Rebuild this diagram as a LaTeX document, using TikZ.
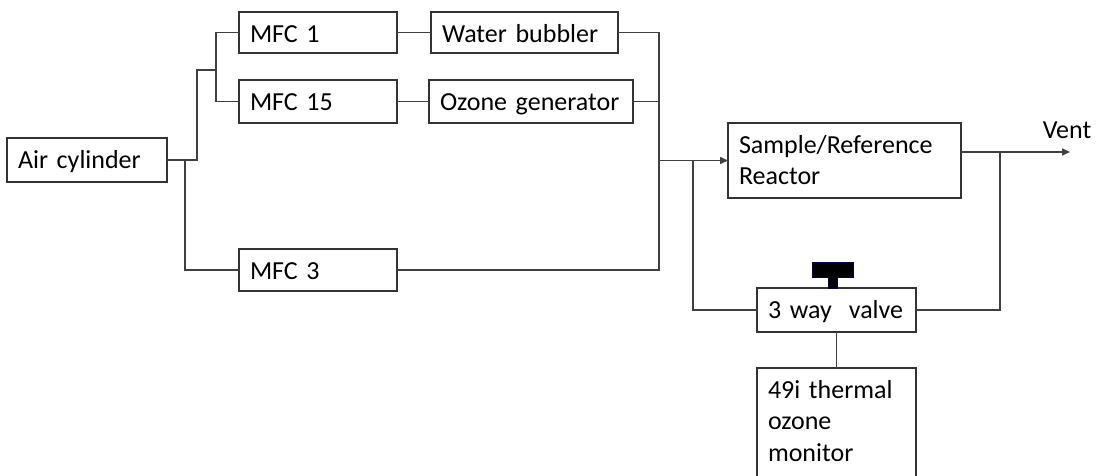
\documentclass[tikz,border=0pt]{standalone}
\usepackage{fontspec}
\setmainfont{Carlito}
\usetikzlibrary{arrows.meta}

\tikzset{
  unit/.style={draw=black!80, line width=1.4pt, anchor=north west, outer sep=0pt,
    inner xsep=11pt, inner ysep=0pt, align=left, text height=30pt},
  pipe/.style={draw=black!75, line width=1.4pt},
}

\begin{document}
\begin{tikzpicture}[x=1pt, y=-1pt, >={Triangle[length=8pt,width=7pt]},
    font=\fontsize{26pt}{31.5pt}\selectfont]
    \useasboundingbox (0,0) rectangle (1099,475);
    \clip (0,0) rectangle (1099,475);

    % gas supply and flow controllers
    \node[unit, text width=138pt, text depth=14pt] (air)     at (7,138)   {Air cylinder};
    \node[unit, text width=136pt, text depth=11pt] (mfc1)    at (239,12)  {MFC 1};
    \node[unit, text width=136pt, text depth=13pt] (mfc15)   at (239,80)  {MFC 15};
    \node[unit, text width=136pt, text depth=12pt] (mfc3)    at (239,249) {MFC 3};
    \node[unit, text width=165pt, text depth=11pt] (bubbler) at (431,12)  {Water bubbler};
    \node[unit, text width=182pt, text depth=13pt] (ozone)   at (429,80)  {Ozone generator};

    % reactor, valve and monitor
    \node[unit, text width=211pt, text depth=45pt] (reactor) at (728,123) {Sample/Reference\\Reactor};
    \node[unit, text width=137pt, text depth=14pt] (valve)   at (757,288) {3 way\hspace{17pt}valve};
    \node[unit, text width=137pt, text depth=90pt] (monitor) at (757,368) {49i thermal\\ozone\\monitor};
    \node[anchor=base] (ventlbl) at (1067,138) {Vent};

    % junction points
    \coordinate (t0) at (185,160);
    \coordinate (t1) at (197,70);
    \coordinate (t2) at (216,70);
    \coordinate (mix) at (659,160.5);
    \coordinate (bypass) at (693,160.5);
    \coordinate (out) at ([yshift=8.5pt]reactor.east);
    \coordinate (ret) at (1000,152);
    \coordinate (vent) at (1070,152);

    \draw[pipe] (air.east) -| (t1) -- (t2);
    \draw[pipe] (mfc1.west) -| (t2) |- (mfc15.west);
    \draw[pipe] (t0) |- (mfc3.west);
    \draw[pipe] (mfc1.east) -- (bubbler.west);
    \draw[pipe] (mfc15.east) -- (ozone.west);
    \draw[pipe] (bubbler.east) -| (mix);
    \draw[pipe] (mfc3.east) -| (mix);
    \draw[pipe] (ozone.east) -- (ozone.east -| mix);
    \draw[pipe,->] (mix) -- (reactor.west);
    \draw[pipe] (bypass) |- (valve.west);
    \draw[pipe,->] (out) -- (vent);
    \draw[pipe] (ret) |- (valve.east);
    \draw[pipe] (valve.south) -- (monitor.north);

    % valve handle
    \filldraw[fill=black, draw=blue!30!black, line width=0.5pt] (812,262) rectangle (853,277);
    \filldraw[fill=black, draw=blue!30!black, line width=0.5pt] (828,277) rectangle (837,288);
\end{tikzpicture}
\end{document}
